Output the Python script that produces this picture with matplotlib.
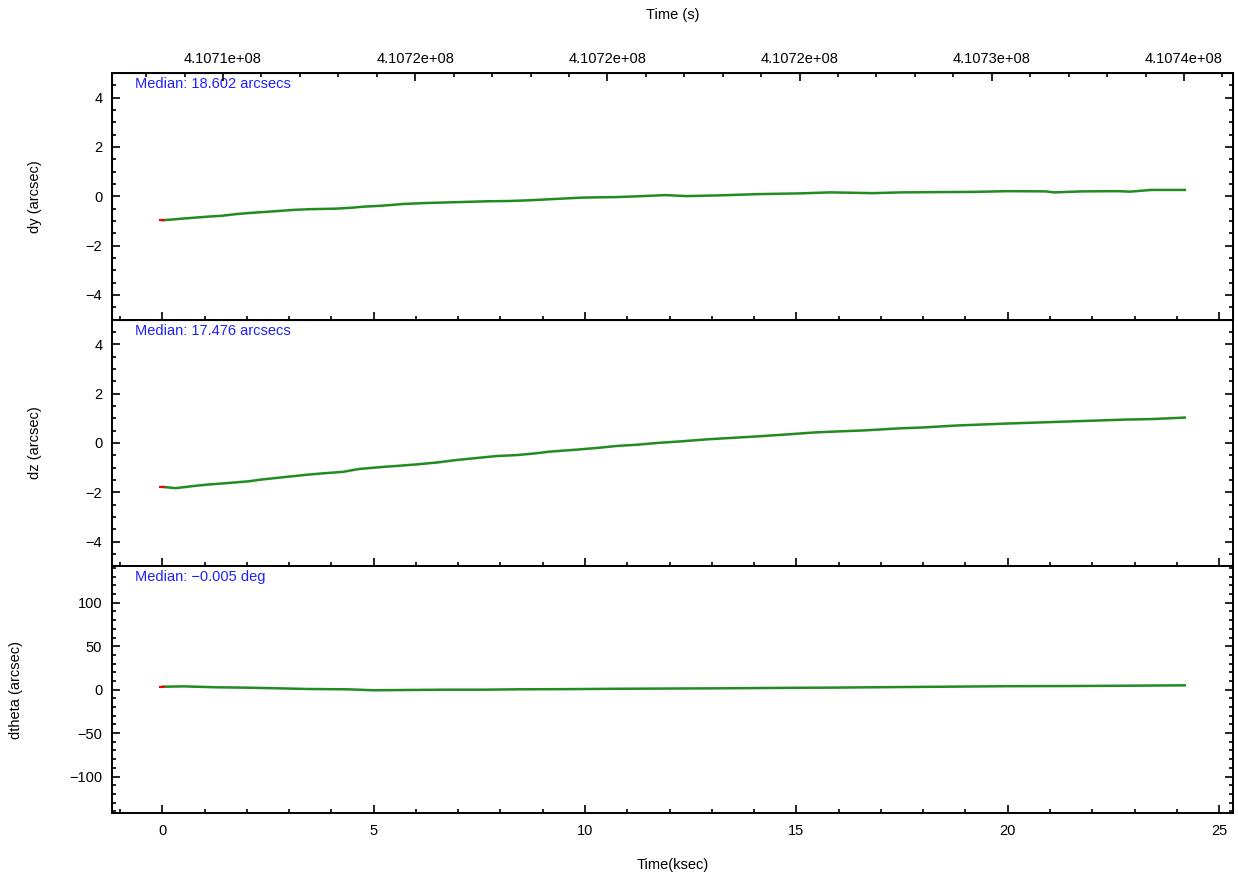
import matplotlib
matplotlib.use("Agg")
import matplotlib.pyplot as plt
from matplotlib.ticker import MultipleLocator, FormatStrFormatter

plt.rcParams['font.family'] = ['Liberation Sans', 'DejaVu Sans']
plt.rcParams['font.size'] = 10.5

# time in ksec and offsets
dy_t = [0, 0.3, 0.5, 0.8, 1.1, 1.4, 1.75, 2.1, 2.7, 3.1, 3.5, 4.1, 4.5, 4.75, 5.2, 5.7, 6.25, 7.1,
        7.7, 8.2, 8.7, 9.25, 9.96, 10.75, 11.37, 11.9, 12.4, 13.2, 14.1, 15.1, 15.8, 16.8, 17.5,
        18.2, 19.2, 20.0, 20.9, 21.1, 21.75, 22.6, 22.9, 23.4, 24.19]
dy_v = [-0.97, -0.93, -0.90, -0.86, -0.82, -0.79, -0.72, -0.67, -0.60, -0.55, -0.52, -0.50, -0.46,
        -0.42, -0.38, -0.31, -0.27, -0.23, -0.20, -0.19, -0.16, -0.11, -0.05, -0.03, 0.01, 0.05,
        0.01, 0.04, 0.09, 0.12, 0.16, 0.13, 0.16, 0.17, 0.18, 0.21, 0.20, 0.16, 0.20, 0.21, 0.19,
        0.26, 0.26]

dz_t = [0, 0.32, 0.71, 1.04, 1.5, 2.06, 2.3, 2.85, 3.4, 3.8, 4.27, 4.67, 5.22, 5.54, 6.0, 6.5,
        6.96, 7.43, 7.9, 8.38, 8.77, 9.17, 9.8, 10.35, 10.75, 11.23, 11.7, 12.3, 12.9, 13.5, 14.1,
        14.8, 15.45, 16.0, 16.6, 17.4, 18.0, 18.8, 19.4, 20.0, 20.7, 21.4, 22.1, 22.8, 23.4, 24.19]
dz_v = [-1.78, -1.83, -1.75, -1.69, -1.63, -1.55, -1.49, -1.39, -1.29, -1.23, -1.17, -1.05, -0.97,
        -0.93, -0.87, -0.79, -0.69, -0.61, -0.53, -0.49, -0.43, -0.35, -0.27, -0.19, -0.12, -0.07,
        0.0, 0.07, 0.15, 0.21, 0.27, 0.35, 0.43, 0.47, 0.51, 0.59, 0.63, 0.71, 0.75, 0.79, 0.83,
        0.87, 0.91, 0.95, 0.97, 1.03]

dth_t = [0, 0.5, 1.3, 2.0, 2.8, 3.4, 4.4, 5.0, 6.0, 6.8, 7.6, 8.4, 9.5, 10.7, 11.9, 13.0, 14.5,
         16.0, 17.4, 18.5, 20.0, 21.5, 23.0, 24.19]
dth_v = [3.4, 3.8, 2.7, 2.3, 1.5, 0.8, 0.4, -0.7, -0.3, 0.0, 0.0, 0.4, 0.6, 1.0, 1.3, 1.5, 2.0,
         2.4, 3.0, 3.4, 4.0, 4.2, 4.6, 5.0]

medians = ["Median: 18.602 arcsecs", "Median: 17.476 arcsecs", "Median: \u22120.005 deg"]
ylabels = ["dy (arcsec)", "dz (arcsec)", "dtheta (arcsec)"]
ylims = [(-5, 5), (-5, 5), (-142, 142)]
ymajor = [2, 2, 50]
yminor = [0.5, 0.5, 10]
label_x = [42, 42, 23]  # right edge of the rotated y labels, pixels

# top axis in seconds
sec_lim = (410707112, 410736275)
sec_major = 5000
sec_minor = 1000

xlim = (-1.19, 25.33)
green = '#228b22'
blue = '#2020ff'

fig = plt.figure(figsize=(12.38, 8.74), dpi=100)
axes = fig.subplots(3, 1, sharex=True)
fig.subplots_adjust(left=112/1238, right=1233/1238, top=1-73/874, bottom=1-813/874, hspace=0)

series = [(dy_t, dy_v), (dz_t, dz_v), (dth_t, dth_v)]
for i, ax in enumerate(axes):
    t, v = series[i]
    ax.plot(t, v, color=green, lw=1.8)
    ax.plot([t[0]], [v[0]], marker='_', color='red', ms=4, mew=1.5)
    ax.set_xlim(*xlim)
    ax.set_ylim(*ylims[i])
    ax.yaxis.set_major_locator(MultipleLocator(ymajor[i]))
    ax.yaxis.set_minor_locator(MultipleLocator(yminor[i]))
    ax.xaxis.set_major_locator(MultipleLocator(5))
    ax.xaxis.set_minor_locator(MultipleLocator(1))
    ax.tick_params(which='both', direction='in', top=False, right=True, width=1.2, pad=8)
    ax.tick_params(which='major', length=6)
    ax.tick_params(which='minor', length=3)
    ax.tick_params(axis='y', pad=7)
    for s in ax.spines.values():
        s.set_linewidth(1.4)
    ax.set_ylabel(ylabels[i])
    ax.text(0.0205, 0.955, medians[i], color=blue, transform=ax.transAxes,
            ha='left', va='center')

for i, ax in enumerate(axes):
    pos = ax.get_position()
    ax.yaxis.set_label_coords(label_x[i] / 1238, (pos.y0 + pos.y1) / 2, transform=fig.transFigure)

axes[-1].set_xlabel("Time(ksec)", labelpad=14)

top = axes[0].twiny()
top.set_xlim(*sec_lim)
top.xaxis.set_major_locator(MultipleLocator(sec_major))
top.xaxis.set_minor_locator(MultipleLocator(sec_minor))
top.xaxis.set_major_formatter(FormatStrFormatter('%.4e'))
top.tick_params(which='both', direction='in', width=1.2, pad=5)
top.tick_params(which='major', length=6)
top.tick_params(which='minor', length=3)
top.set_xlabel("Time (s)", labelpad=24)

fig.savefig("out.png", dpi=100)
